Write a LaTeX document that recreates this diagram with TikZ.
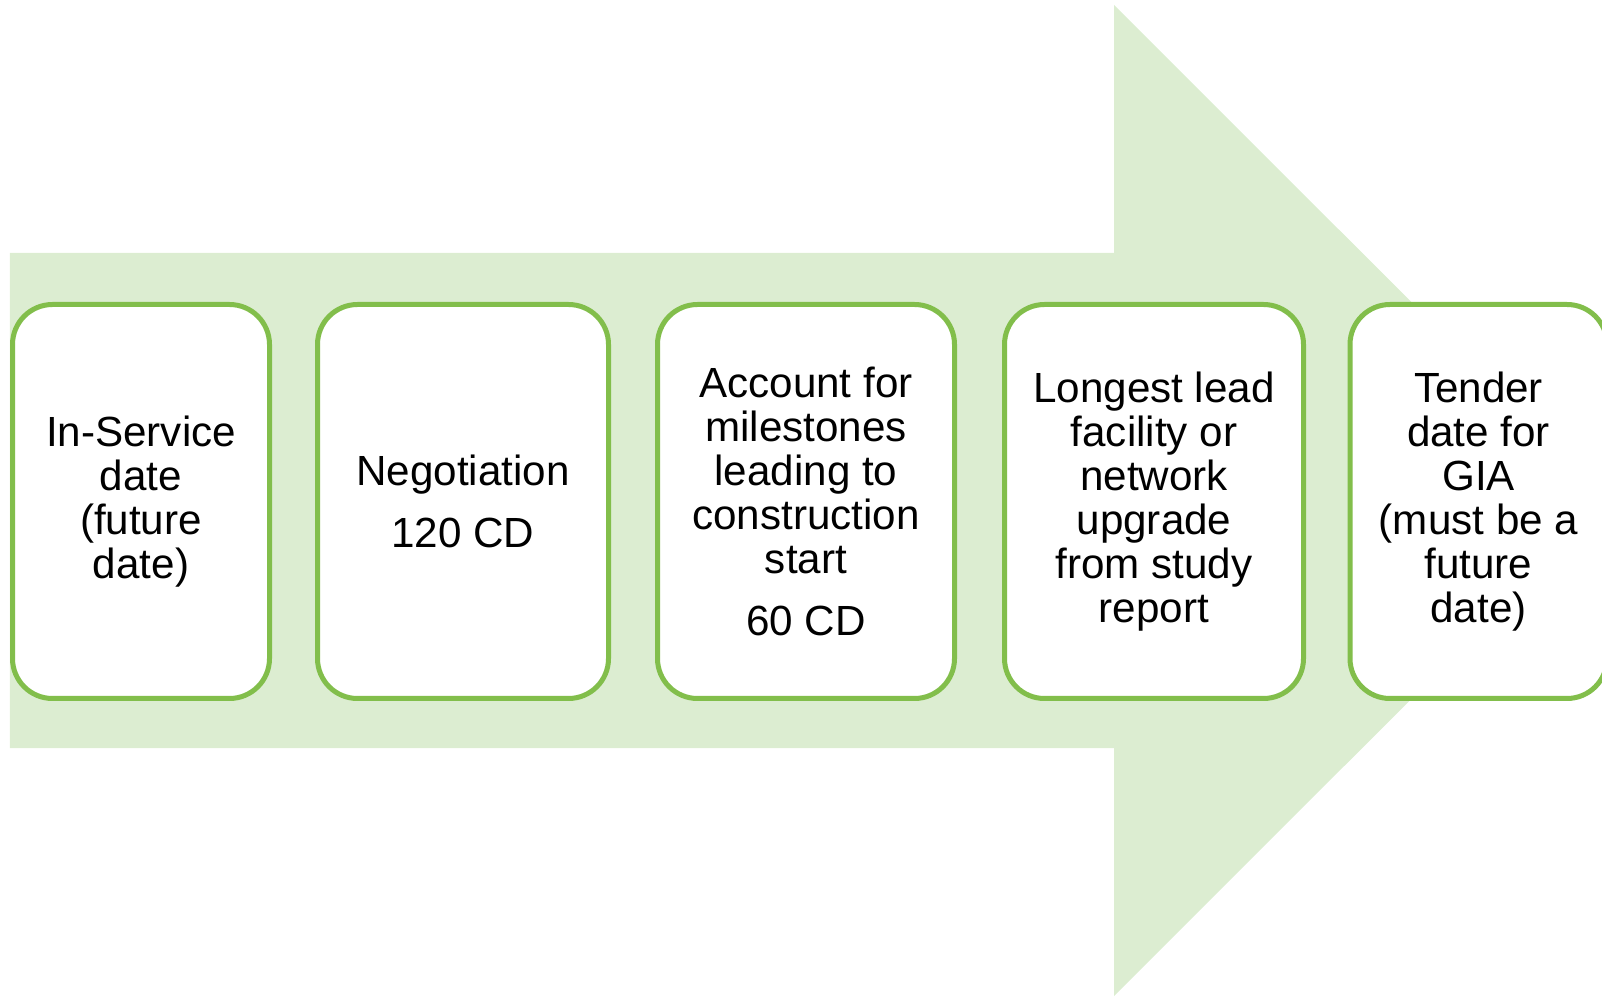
\documentclass[tikz,border=0pt]{standalone}
\usepackage{fontspec}
\setmainfont{Liberation Sans}
\definecolor{arrowfill}{RGB}{220,237,209}
\definecolor{boxline}{RGB}{130,190,75}

\begin{document}
\begin{tikzpicture}
	\tikzstyle{every node}=[font=\fontsize{24}{25}\selectfont]
	\tikzstyle{milestone}=[draw=boxline, line width=0.1cm, fill=white, rounded corners=0.8cm, minimum height=7.88cm, align=center, inner sep=0pt]
	
	\useasboundingbox (0,0) rectangle (32.04,19.94);
	\clip (0,0) rectangle (32.04,19.94);
	
	% big arrow behind the boxes
	\fill [arrowfill] (0.2,4.98) -- (0.2,14.88) -- (22.28,14.88) -- (22.28,19.84) -- (32.2,9.93) -- (22.28,0.02) -- (22.28,4.98) -- cycle;
	
	\node [milestone, minimum width=5.14cm] (inservice) at (2.82,9.91) {In-Service\\date\\(future\\date)};
	\node [milestone, minimum width=5.82cm] (negotiation) at (9.26,9.91) {Negotiation\\[10pt]120 CD};
	\node [milestone, minimum width=5.94cm] (construction) at (16.12,9.91) {Account for\\milestones\\leading to\\construction\\start\\[10pt]60 CD};
	\node [milestone, minimum width=5.98cm] (leadtime) at (23.08,9.91) {Longest lead\\facility or\\network\\upgrade\\from study\\report};
	\node [milestone, minimum width=5.14cm] (tender) at (29.57,9.91) {Tender\\date for\\GIA\\(must be a\\future\\date)};
	
\end{tikzpicture}
\end{document}
